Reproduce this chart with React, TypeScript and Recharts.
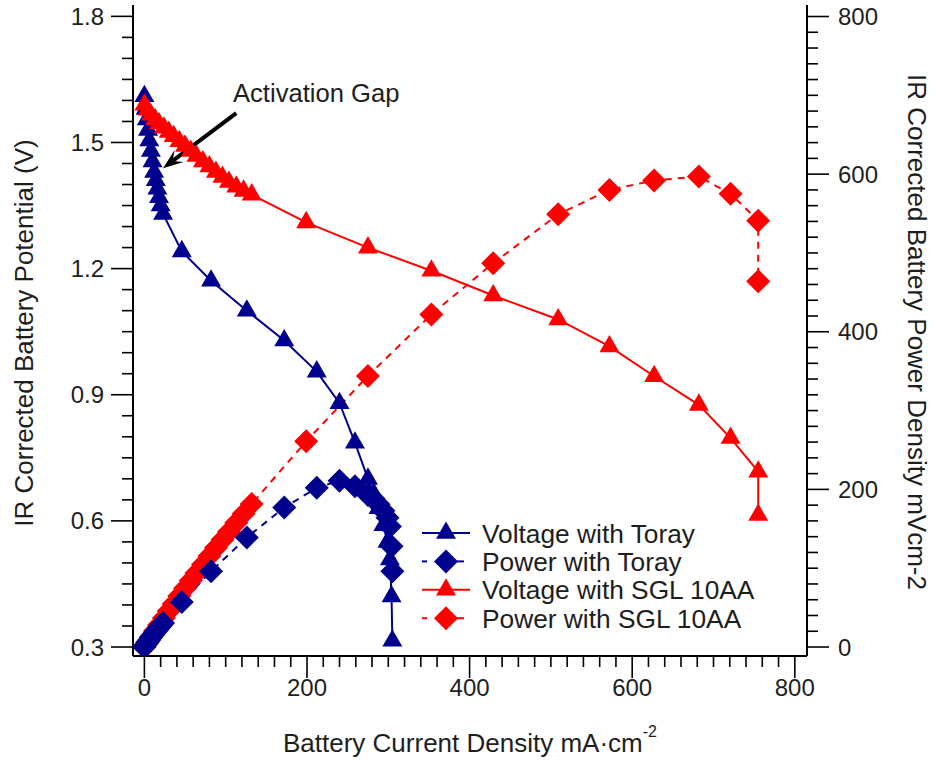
import React from 'react';
import { ComposedChart, Line, XAxis, YAxis, ReferenceLine, ReferenceDot, Legend } from 'recharts';

const BLUE = '#00008f';
const RED = '#ff0000';
const INK = '#1e1e1e';
const FONT = 'Arial, "Liberation Sans", Helvetica, sans-serif';

// Toray paper: current density (mA/cm2), IR corrected potential (V), power density (mW/cm2)
const torayCurrent = [0, 1.5, 3, 4.5, 6, 8, 10, 12, 14, 16, 18, 20, 23, 46, 82, 126, 172, 212, 240, 259, 275, 282, 288, 294, 299, 302, 304, 305];
const torayVoltage = [1.61, 1.58, 1.555, 1.53, 1.505, 1.48, 1.455, 1.43, 1.41, 1.39, 1.37, 1.35, 1.33, 1.241, 1.171, 1.1, 1.029, 0.955, 0.88, 0.786, 0.7, 0.665, 0.63, 0.59, 0.55, 0.508, 0.42, 0.315];
const torayPower = [0, 2.4, 4.7, 6.9, 9.0, 11.8, 14.6, 17.2, 19.7, 22.2, 24.7, 27, 30.6, 57, 96, 139, 177, 202, 211, 204, 193, 188, 181, 173, 164, 153, 128, 96];

// SGL 10AA paper
const sglCurrent = [0, 4, 8, 13, 18, 24, 30, 36, 43, 50, 57, 64, 72, 80, 88, 96, 104, 113, 122, 132, 199, 275, 353, 429, 509, 572, 627, 682, 721, 755, 755];
const sglVoltage = [1.59, 1.578, 1.566, 1.555, 1.545, 1.535, 1.525, 1.515, 1.503, 1.492, 1.48, 1.468, 1.455, 1.443, 1.43, 1.418, 1.406, 1.395, 1.385, 1.376, 1.31, 1.25, 1.195, 1.136, 1.079, 1.015, 0.944, 0.876, 0.797, 0.717, 0.614];
const sglPower = [0, 6.3, 12.6, 20.2, 27.8, 36.8, 45.8, 54.5, 64.6, 74.6, 84.4, 94, 104.8, 115.4, 125.8, 136.1, 146.2, 157.6, 169, 181.6, 261, 344, 422, 487, 549, 580, 592, 597, 575, 541, 464];

const xMajor = [0, 200, 400, 600, 800];
const vMajor = [0.3, 0.6, 0.9, 1.2, 1.5, 1.8];
const pMajor = [0, 200, 400, 600, 800];

const xTicks = Array.from({ length: 41 }, (_, k) => k * 20);
const vTicks = Array.from({ length: 31 }, (_, k) => +(0.3 + k * 0.05).toFixed(2));
const pTicks = Array.from({ length: 41 }, (_, k) => k * 20);

const rows = (i: number[], v: number[], p: number[]) => i.map((x, k) => ({ i: x, v: v[k], p: p[k] }));
const torayData = rows(torayCurrent, torayVoltage, torayPower);
const sglData = rows(sglCurrent, sglVoltage, sglPower);

const isMajor = (list: number[], v: number) => list.some((m) => Math.abs(m - v) < 1e-6);

const triangle = (cx: number, cy: number) => `${cx},${cy - 11.5} ${cx + 10},${cy + 5.8} ${cx - 10},${cy + 5.8}`;
const diamond = (cx: number, cy: number) => `${cx},${cy - 12} ${cx + 12},${cy} ${cx},${cy + 12} ${cx - 12},${cy}`;

const triangleDot = (color: string) => (props: any) => {
    const { cx, cy, index } = props;
    if (cx == null || cy == null) return <g key={`t${index}`} />;
    return <polygon key={`t${index}`} points={triangle(cx, cy)} fill={color} />;
};

const diamondDot = (color: string) => (props: any) => {
    const { cx, cy, index } = props;
    if (cx == null || cy == null) return <g key={`d${index}`} />;
    return <polygon key={`d${index}`} points={diamond(cx, cy)} fill={color} />;
};

const XTick = (props: any) => {
    const { x, y, payload } = props;
    const major = isMajor(xMajor, payload.value);
    return (
        <g>
            <line x1={x} y1={y} x2={x} y2={y + (major ? 22 : 11)} stroke="#000" strokeWidth={1.6} />
            {major && (
                <text x={x} y={y + 40} textAnchor="middle" fontSize={24} fontFamily={FONT} fill={INK}>
                    {payload.value}
                </text>
            )}
        </g>
    );
};

const VTick = (props: any) => {
    const { x, y, payload } = props;
    const major = isMajor(vMajor, payload.value);
    return (
        <g>
            <line x1={x} y1={y} x2={x - (major ? 22 : 11)} y2={y} stroke="#000" strokeWidth={1.6} />
            {major && (
                <text x={x - 29} y={y + 8.5} textAnchor="end" fontSize={24} fontFamily={FONT} fill={INK}>
                    {payload.value.toFixed(1)}
                </text>
            )}
        </g>
    );
};

const PTick = (props: any) => {
    const { x, y, payload } = props;
    const major = isMajor(pMajor, payload.value);
    return (
        <g>
            <line x1={x} y1={y} x2={x + (major ? 22 : 11)} y2={y} stroke="#000" strokeWidth={1.6} />
            {major && (
                <text x={x + 31} y={y + 8.5} textAnchor="start" fontSize={24} fontFamily={FONT} fill={INK}>
                    {payload.value}
                </text>
            )}
        </g>
    );
};

const Arrow = (props: any) => {
    const { x1, y1, x2, y2 } = props;
    const a = Math.atan2(y2 - y1, x2 - x1);
    const len = 20;
    const half = 7.5;
    const bx = x2 - len * Math.cos(a);
    const by = y2 - len * Math.sin(a);
    const px = -Math.sin(a);
    const py = Math.cos(a);
    const head = `${x2},${y2} ${bx + half * px},${by + half * py} ${x2 - 0.6 * len * Math.cos(a)},${y2 - 0.6 * len * Math.sin(a)} ${bx - half * px},${by - half * py}`;
    return (
        <g>
            <line x1={x1} y1={y1} x2={x2 - 0.6 * len * Math.cos(a)} y2={y2 - 0.6 * len * Math.sin(a)} stroke="#000" strokeWidth={4} />
            <polygon points={head} fill="#000" />
        </g>
    );
};

const legendItems = [
    { name: 'Voltage with Toray', color: BLUE, shape: 'triangle', dashed: false },
    { name: 'Power with Toray', color: BLUE, shape: 'diamond', dashed: true },
    { name: 'Voltage with SGL 10AA', color: RED, shape: 'triangle', dashed: false },
    { name: 'Power with SGL 10AA', color: RED, shape: 'diamond', dashed: true },
];

const LegendBox = () => (
    <svg width={350} height={118}>
        {legendItems.map((it, k) => {
            const cy = 14 + k * 28.4;
            return (
                <g key={it.name}>
                    {it.dashed ? (
                        <g stroke={it.color} strokeWidth={2}>
                            <line x1={6} y1={cy} x2={11} y2={cy} />
                            <line x1={40} y1={cy} x2={48} y2={cy} />
                        </g>
                    ) : (
                        <line x1={6} y1={cy} x2={54} y2={cy} stroke={it.color} strokeWidth={2} />
                    )}
                    <polygon points={it.shape === 'triangle' ? triangle(30, cy) : diamond(30, cy)} fill={it.color} />
                    <text x={66} y={cy + 9.5} fontSize={26.3} fontFamily={FONT} fill={INK}>
                        {it.name}
                    </text>
                </g>
            );
        })}
    </svg>
);

const LeftTitle = (props: any) => {
    const { viewBox } = props;
    const x = viewBox.x + 24;
    const y = 333;
    return (
        <text x={x} y={y} transform={`rotate(-90 ${x} ${y})`} textAnchor="middle" dominantBaseline="central" fontSize={26} fontFamily={FONT} fill={INK}>
            IR Corrected Battery Potential (V)
        </text>
    );
};

const RightTitle = (props: any) => {
    const { viewBox } = props;
    const x = viewBox.x + viewBox.width - 18;
    const y = 332;
    return (
        <text x={x} y={y} transform={`rotate(90 ${x} ${y})`} textAnchor="middle" dominantBaseline="central" fontSize={26} fontFamily={FONT} fill={INK}>
            IR Corrected Battery Power Density mVcm-2
        </text>
    );
};

const BottomTitle = (props: any) => {
    const { viewBox } = props;
    const x = viewBox.x + viewBox.width / 2;
    return (
        <text x={x} y={752} textAnchor="middle" fontSize={26} fontFamily={FONT} fill={INK}>
            Battery Current Density mA·cm
            <tspan dy={-15} fontSize={16}>-2</tspan>
        </text>
    );
};

export default function App() {
    return (
        <div style={{ position: 'absolute', left: 0, top: 0, width: 935, height: 763, background: '#fff' }}>
            <ComposedChart width={935} height={763} margin={{ top: 5, right: 0, bottom: 0, left: 0 }}>
                <XAxis
                    dataKey="i"
                    type="number"
                    domain={[-14, 815]}
                    ticks={xTicks}
                    interval={0}
                    allowDataOverflow
                    height={107}
                    tickSize={0}
                    tickMargin={0}
                    tickLine={false}
                    tick={<XTick />}
                    axisLine={{ stroke: '#000', strokeWidth: 2 }}
                    label={<BottomTitle />}
                />
                <XAxis
                    xAxisId="top"
                    orientation="top"
                    type="number"
                    domain={[-14, 815]}
                    allowDataOverflow
                    height={0}
                    tick={false}
                    tickLine={false}
                    axisLine={{ stroke: '#000', strokeWidth: 2 }}
                />
                <YAxis
                    yAxisId="v"
                    orientation="left"
                    type="number"
                    domain={[0.2786, 1.827]}
                    ticks={vTicks}
                    interval={0}
                    allowDataOverflow
                    width={133}
                    tickSize={0}
                    tickMargin={0}
                    tickLine={false}
                    tick={<VTick />}
                    axisLine={{ stroke: '#000', strokeWidth: 2 }}
                    label={<LeftTitle />}
                />
                <YAxis
                    yAxisId="p"
                    orientation="right"
                    type="number"
                    domain={[-11.4, 814.6]}
                    ticks={pTicks}
                    interval={0}
                    allowDataOverflow
                    width={128}
                    tickSize={0}
                    tickMargin={0}
                    tickLine={false}
                    tick={<PTick />}
                    axisLine={{ stroke: '#000', strokeWidth: 2 }}
                    label={<RightTitle />}
                />
                <Line
                    yAxisId="v"
                    data={torayData}
                    dataKey="v"
                    name="Voltage with Toray"
                    type="linear"
                    stroke={BLUE}
                    strokeWidth={2}
                    dot={triangleDot(BLUE)}
                    activeDot={false}
                    isAnimationActive={false}
                />
                <Line
                    yAxisId="v"
                    data={sglData}
                    dataKey="v"
                    name="Voltage with SGL 10AA"
                    type="linear"
                    stroke={RED}
                    strokeWidth={2}
                    dot={triangleDot(RED)}
                    activeDot={false}
                    isAnimationActive={false}
                />
                <Line
                    yAxisId="p"
                    data={sglData}
                    dataKey="p"
                    name="Power with SGL 10AA"
                    type="linear"
                    stroke={RED}
                    strokeWidth={2}
                    strokeDasharray="7 6"
                    dot={diamondDot(RED)}
                    activeDot={false}
                    isAnimationActive={false}
                />
                <Line
                    yAxisId="p"
                    data={torayData}
                    dataKey="p"
                    name="Power with Toray"
                    type="linear"
                    stroke={BLUE}
                    strokeWidth={2}
                    strokeDasharray="7 6"
                    dot={diamondDot(BLUE)}
                    activeDot={false}
                    isAnimationActive={false}
                />
                <ReferenceLine
                    yAxisId="v"
                    segment={[{ x: 113, y: 1.57 }, { x: 23, y: 1.439 }]}
                    shape={<Arrow />}
                />
                <ReferenceDot
                    yAxisId="v"
                    x={109}
                    y={1.597}
                    shape={(p: any) => (
                        <text x={p.cx} y={p.cy} fontSize={25.6} fontFamily={FONT} fill={INK}>
                            Activation Gap
                        </text>
                    )}
                />
                <Legend
                    layout="vertical"
                    align="center"
                    verticalAlign="middle"
                    wrapperStyle={{ left: 416, top: 519, width: 350, height: 118 }}
                    content={() => <LegendBox />}
                />
            </ComposedChart>
        </div>
    );
}
